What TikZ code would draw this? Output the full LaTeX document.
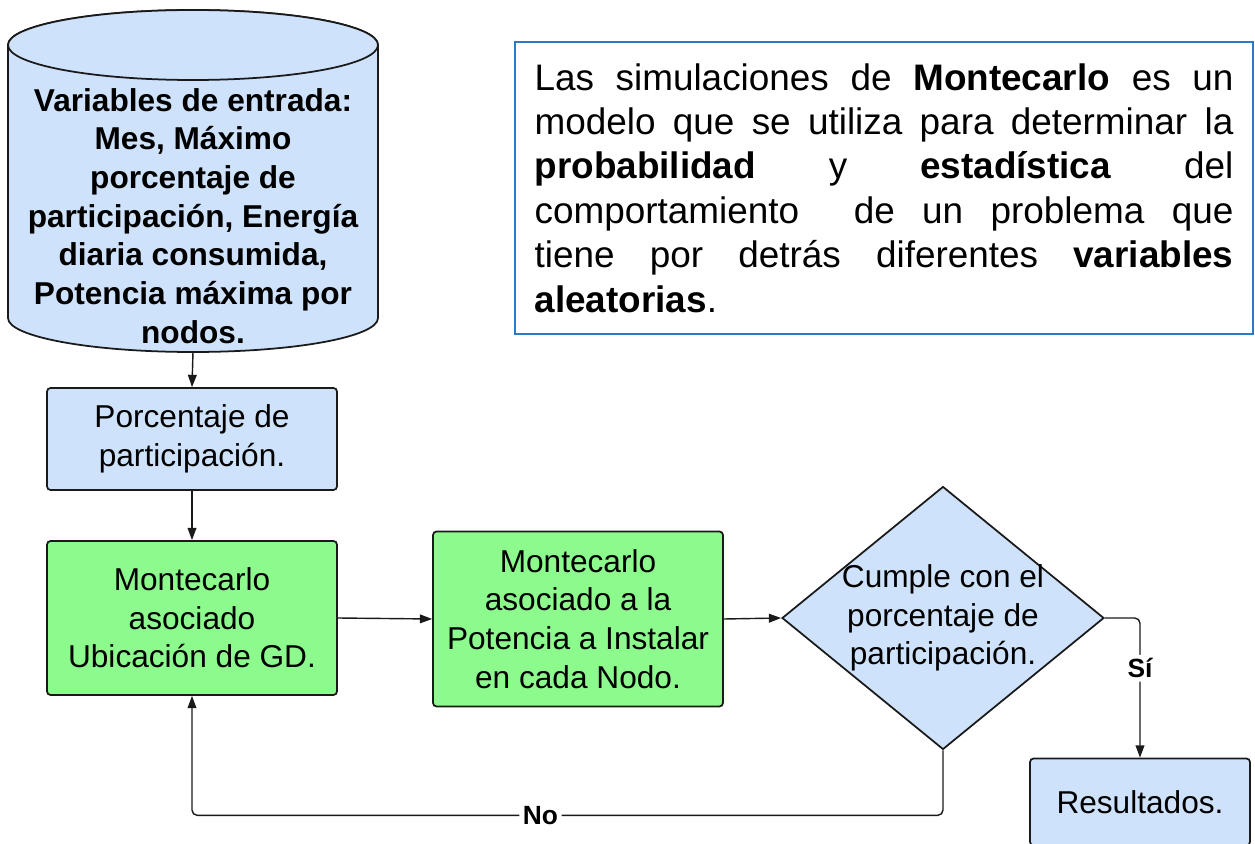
\documentclass[tikz,border=0pt]{standalone}
\usepackage{fontspec}
\setmainfont{Liberation Sans}
\usetikzlibrary{shapes.geometric, arrows.meta, positioning, calc}

\definecolor{boxblue}{HTML}{CFE2FB}
\definecolor{boxgreen}{HTML}{8CFA8C}
\definecolor{noteblue}{HTML}{2A7BC8}
\definecolor{edgegray}{HTML}{1A1A1A}

\begin{document}
\begin{tikzpicture}[
    x=0.02cm, y=-0.02cm,
    >={Triangle[length=7pt,width=5pt]},
    base/.style={draw=edgegray, line width=1pt, align=center, font=\fontsize{18}{22}\selectfont},
    process/.style={base, rectangle, rounded corners=2pt, fill=boxblue, minimum width=5.8cm, inner sep=4pt},
    montecarlo/.style={process, fill=boxgreen},
    decision/.style={base, diamond, fill=boxblue, minimum width=6.44cm, minimum height=5.26cm, inner sep=-0.6cm},
    drum/.style={draw=edgegray, line width=1pt, fill=boxblue},
    note/.style={draw=noteblue, line width=1.2pt, text width=13.98cm, inner xsep=0.39cm, minimum height=5.84cm, align=justify, font=\fontsize{21}{25.3}\selectfont},
    link/.style={draw=edgegray, line width=0.8pt, rounded corners=3pt},
    tag/.style={fill=white, inner sep=2pt, font=\bfseries\fontsize{15}{18}\selectfont}
]
\useasboundingbox (0,0) rectangle (1255,844);

% input data (cylinder)
\path[drum] (8,45) -- (8,318) arc[start angle=180, end angle=0, x radius=185, y radius=34]
    -- (378,45) arc[start angle=360, end angle=180, x radius=185, y radius=35] -- cycle;
\draw[drum] (193,45) ellipse[x radius=185, y radius=35];
\coordinate (inpbot) at (193,352);
\node[align=center, font=\bfseries\fontsize{18}{22}\selectfont] (inp) at (193,216) {Variables de entrada:\\Mes, Máximo\\porcentaje de\\participación, Energía\\diaria consumida,\\Potencia máxima por\\nodos.};

% explanation
\node[note] (txt) at (884,188) {\hyphenpenalty=10000
Las simulaciones de \textbf{Montecarlo} es un\linebreak
modelo que se utiliza para determinar la\linebreak
\textbf{probabilidad} y \textbf{estadística} del\linebreak
comportamiento~ de un problema que\linebreak
tiene por detrás diferentes \textbf{variables}\linebreak
\textbf{aleatorias}.};

% process
\node[process, minimum height=2.04cm] (por) at (192,439) {Porcentaje de\\participación.};
\node[montecarlo, minimum height=3.08cm] (ubi) at (192,618) {Montecarlo\\asociado\\Ubicación de GD.};
\node[montecarlo, minimum height=3.5cm] (pot) at (578,619) {Montecarlo\\asociado a la\\Potencia a Instalar\\en cada Nodo.};
\node[decision] (chk) at (943,618) {Cumple con el\\porcentaje de\\participación.};
\node[process, minimum width=4.4cm, minimum height=1.74cm] (res) at (1140,802) {Resultados.};

% connectors
\draw[link,->] (inpbot) -- (por.north);
\draw[link,->] (por.south) -- (ubi.north);
\draw[link,->] (ubi.east) -- (pot.west);
\draw[link,->] (pot.east) -- (chk.west);
\draw[link,->] (chk.east) -| node[tag, pos=0.68] {Sí} (res.north);
\draw[link,->] (chk.south) -- ++(0,65) coordinate (back) -| node[tag, pos=0.268] {No} (ubi.south);

\end{tikzpicture}
\end{document}
